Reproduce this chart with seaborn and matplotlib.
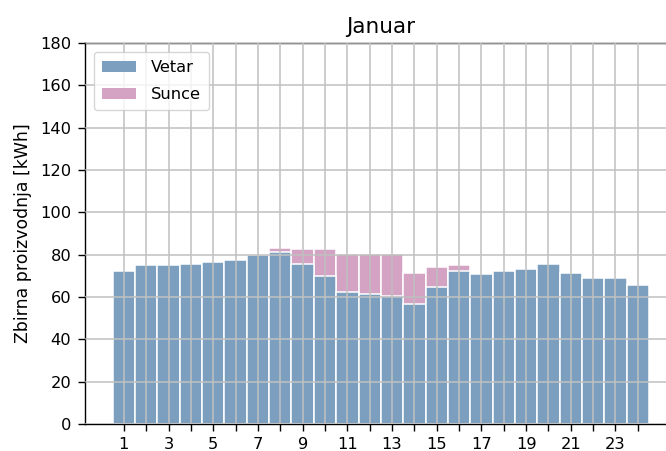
import numpy as np
import pandas as pd
import matplotlib
matplotlib.use('Agg')
import matplotlib.pyplot as plt
import seaborn as sns

# hourly totals for January
hours = list(range(1, 25))
vetar = [72.3, 75.0, 75.0, 75.7, 76.5, 77.3, 80.0, 81.4, 75.7, 69.9, 62.5, 61.4,
         60.6, 56.7, 64.9, 72.4, 70.9, 72.4, 73.2, 75.7, 71.5, 69.0, 69.0, 65.7]
sunce = [0.0, 0.0, 0.0, 0.0, 0.0, 0.0, 0.0, 1.9, 6.8, 12.6, 17.7, 18.8,
         19.7, 14.8, 9.1, 2.6, 0.0, 0.0, 0.0, 0.0, 0.0, 0.0, 0.0, 0.0]

blue = '#7c9fc0'
pink = '#d4a2c3'

df = pd.DataFrame({'sat': hours, 'Vetar': vetar, 'Sunce': sunce})
df['ukupno'] = df['Vetar'] + df['Sunce']

plt.rcParams['font.family'] = ['DejaVu Sans']
plt.rcParams['font.size'] = 11.7
plt.rcParams['axes.linewidth'] = 1.0
plt.rcParams['xtick.major.size'] = 5
plt.rcParams['ytick.major.size'] = 5
plt.rcParams['xtick.major.pad'] = 4.5
plt.rcParams['ytick.major.pad'] = 5
plt.rcParams['xtick.major.width'] = 1.0
plt.rcParams['ytick.major.width'] = 1.0

fig = plt.figure(figsize=(6.66, 4.51), dpi=100)
ax = fig.add_axes([0.128, 0.0599, 0.8877, 0.8448])

# stacked bars: total behind, wind in front
sns.barplot(data=df, x='sat', y='ukupno', native_scale=True, color=pink,
            saturation=1, width=1.0, edgecolor='white', linewidth=1.1,
            label='Sunce', ax=ax)
sns.barplot(data=df, x='sat', y='Vetar', native_scale=True, color=blue,
            saturation=1, width=1.0, edgecolor='white', linewidth=1.1,
            label='Vetar', ax=ax)

ax.set_xlim(-0.73, 25.73)
ax.set_ylim(0, 180)
ax.set_yticks(range(0, 181, 20))
ax.set_xticks(hours)
ax.set_xticklabels([str(h) if h % 2 else '' for h in hours])
ax.grid(True, color='#c0c0c0', linewidth=1.1)
ax.set_axisbelow(False)

ax.set_xlabel('')
ax.set_ylabel('Zbirna proizvodnja [kWh]', fontsize=12.4, labelpad=6)
ax.set_title('Januar', fontsize=15.5, pad=7.5)

handles, labels = ax.get_legend_handles_labels()
order = [labels.index('Vetar'), labels.index('Sunce')]
leg = ax.legend([handles[i] for i in order], [labels[i] for i in order],
                loc='upper left', handlelength=2.1, handleheight=0.62,
                handletextpad=0.9, labelspacing=0.75, borderpad=0.5,
                borderaxespad=0.55)
for h in leg.legend_handles:
    h.set_edgecolor('none')

fig.savefig('out.png', dpi=100)
